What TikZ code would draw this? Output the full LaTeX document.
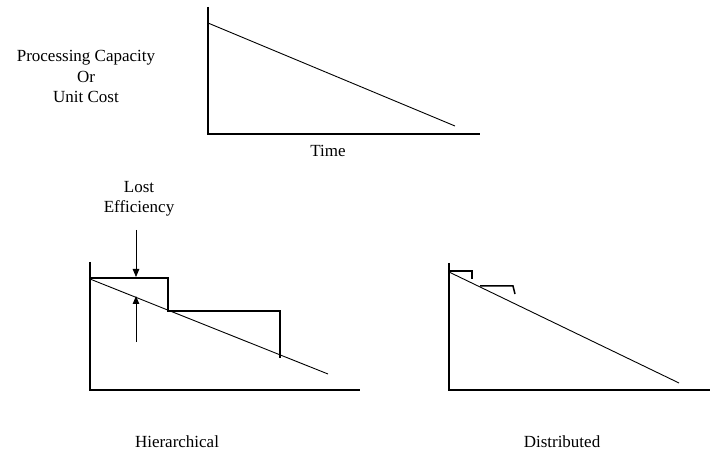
\documentclass[tikz,border=0pt]{standalone}
\usepackage{fontspec}
\setmainfont{Liberation Serif}
\usetikzlibrary{arrows.meta}
\tikzset{
  lbl/.style={inner sep=0pt, anchor=base, align=center, font=\fontsize{17}{20.5}\selectfont},
  axis/.style={line width=1.6pt},
  cost/.style={line width=0.9pt},
  stair/.style={line width=1.5pt},
  lost/.style={line width=0.8pt, -{Triangle[length=8pt,width=6.5pt]}}
}
\begin{document}
\begin{tikzpicture}[x=1pt,y=-1pt]
        \useasboundingbox (0,0) rectangle (710,457);
        % top chart
        \coordinate (T0) at (208,134);
        \draw[axis] (208,7)--(T0)--(480,134);
        \draw[cost] (208,23)--(455,126);
        \node[lbl] (ylab) at (86,103) {Processing Capacity\\Or\\Unit Cost};
        \node[lbl] (tlab) at (328,157) {Time};
        % hierarchical
        \coordinate (H0) at (90,390);
        \draw[axis] (90,262)--(H0)--(360,390);
        \draw[cost] (90,279)--(328,374);
        \draw[stair] (90,278)--(168,278)--(168,311)--(280,311)--(280,358);
        \node[lbl] (eff) at (139,213) {Lost\\Efficiency};
        \coordinate (a1) at (136,230);
        \coordinate (a2) at (136,277);
        \coordinate (b1) at (136,342);
        \coordinate (b2) at (136,296);
        \draw[lost] (a1)--(a2);
        \draw[lost] (b1)--(b2);
        \node[lbl] (hier) at (177,447) {Hierarchical};
        % distributed
        \coordinate (D0) at (449,390);
        \draw[axis] (449,263)--(D0)--(710,390);
        \draw[cost] (449,272)--(679,383);
        \draw[stair] (449,271)--(472,271)--(472,279);
        \draw[stair] (480,286)--(513,286)--(515,294);
        \node[lbl] (dist) at (562,447) {Distributed};
    \end{tikzpicture}
\end{document}
